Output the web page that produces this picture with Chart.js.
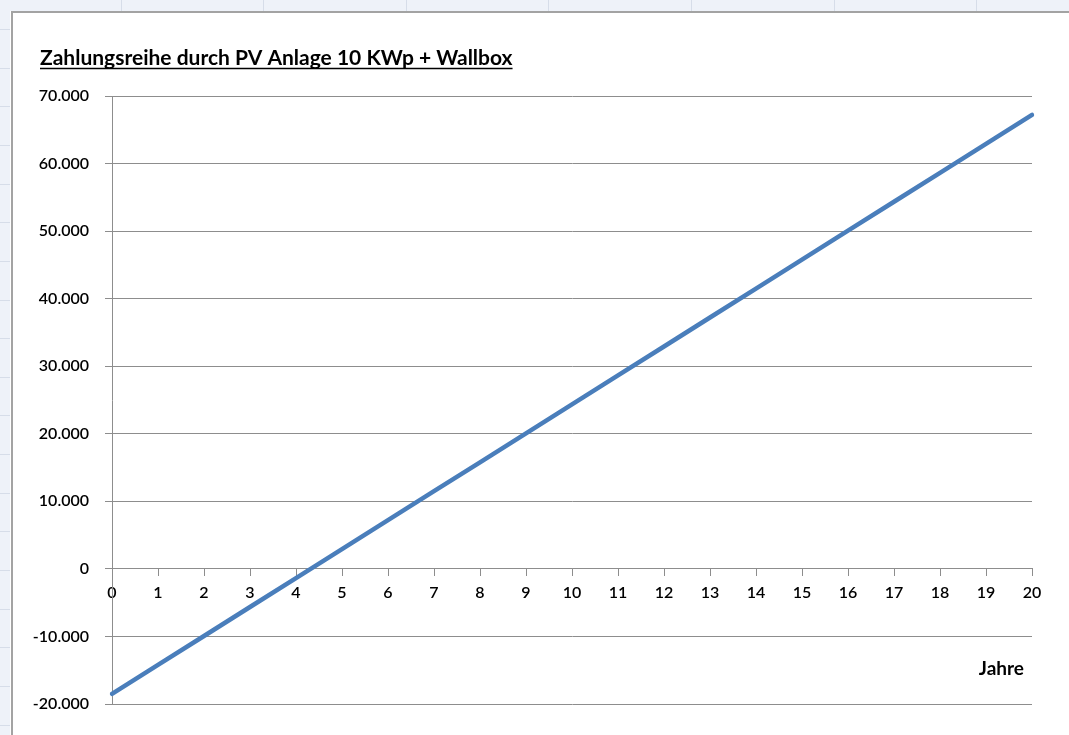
<!DOCTYPE html>
<html>
<head>
<meta charset="utf-8">
<script src="https://cdn.jsdelivr.net/npm/chart.js@4.4.1/dist/chart.umd.min.js"></script>
<style>
  html, body { margin: 0; padding: 0; background: #ffffff; }
  #wrap { position: relative; width: 1069px; height: 735px; }
</style>
</head>
<body>
<div id="wrap"><canvas id="chart" width="1069" height="735"></canvas></div>
<script>
// Years of operation (x categories)
const years = ['0','1','2','3','4','5','6','7','8','9','10','11','12','13','14','15','16','17','18','19','20'];
// Cumulative cash flow in EUR per year
const cashFlow = [-18500, -14200, -9930, -5640, -1360, 2930, 7210, 11500, 15780, 20070,
                  24350, 28640, 32920, 37210, 41490, 45780, 50060, 54350, 58630, 62920, 67200];
// Value axis range and spacing
const yMin = -20000;
const yMax = 70000;
const yStep = 10000;

const titleText = 'Zahlungsreihe durch PV Anlage 10 KWp + Wallbox';
const xAxisName = 'Jahre';

const FONT = 'Lato, "Open Sans", "Noto Sans", sans-serif';
const GRID = '#8d8d8d';

// German number format: 70.000, -10.000
function formatDE(v) {
  const s = Math.abs(v).toString().replace(/\B(?=(\d{3})+(?!\d))/g, '.');
  return (v < 0 ? '-' : '') + s;
}

// Spreadsheet backdrop (cell headers and frame) behind the chart object
const sheetBackdrop = {
  id: 'sheetBackdrop',
  beforeDraw(chart) {
    const ctx = chart.ctx;
    const W = chart.width, H = chart.height;
    ctx.save();
    ctx.fillStyle = '#ffffff';
    ctx.fillRect(0, 0, W, H);
    ctx.fillStyle = '#eef2f9';
    ctx.fillRect(0, 0, W, 11);
    ctx.fillRect(0, 0, 10, H);
    ctx.strokeStyle = '#d6dde9';
    ctx.lineWidth = 1;
    for (let x = 120.5; x < W; x += 142.6) {
      ctx.beginPath(); ctx.moveTo(Math.round(x) + 0.5, 0); ctx.lineTo(Math.round(x) + 0.5, 11); ctx.stroke();
    }
    for (let y = 29; y < H; y += 38.65) {
      ctx.beginPath(); ctx.moveTo(0, Math.round(y) + 0.5); ctx.lineTo(10, Math.round(y) + 0.5); ctx.stroke();
    }
    // chart frame
    ctx.strokeStyle = '#a3a3a3';
    ctx.lineWidth = 2;
    ctx.beginPath();
    ctx.moveTo(12, H);
    ctx.lineTo(12, 12);
    ctx.lineTo(W, 12);
    ctx.stroke();
    ctx.restore();
  }
};

// Underlined chart title and the axis name at the lower right
const chartTexts = {
  id: 'chartTexts',
  afterDraw(chart) {
    const ctx = chart.ctx;
    ctx.save();
    ctx.font = 'bold 21px ' + FONT;
    ctx.fillStyle = '#000000';
    ctx.textAlign = 'left';
    ctx.textBaseline = 'alphabetic';
    const tx = 40, ty = 65;
    ctx.fillText(titleText, tx, ty);
    const w = ctx.measureText(titleText).width;
    ctx.strokeStyle = '#000000';
    ctx.lineWidth = 1.5;
    ctx.beginPath();
    ctx.moveTo(tx, ty + 3.5);
    ctx.lineTo(tx + w, ty + 3.5);
    ctx.stroke();

    ctx.font = 'bold 19px ' + FONT;
    ctx.textAlign = 'right';
    ctx.textBaseline = 'middle';
    ctx.fillText(xAxisName, chart.chartArea.right - 8, chart.scales.y.getPixelForValue(-14800));
    ctx.restore();
  }
};

new Chart(document.getElementById('chart'), {
  type: 'line',
  data: {
    labels: years,
    datasets: [{
      label: 'Zahlungsreihe',
      data: cashFlow,
      borderColor: '#4a7ebb',
      borderWidth: 4.5,
      borderCapStyle: 'round',
      borderJoinStyle: 'round',
      pointRadius: 0,
      tension: 0,
      fill: false
    }]
  },
  options: {
    responsive: false,
    animation: false,
    layout: { padding: { left: 20, top: 96, right: 37, bottom: 31 } },
    plugins: {
      legend: { display: false },
      tooltip: { enabled: false },
      title: { display: false }
    },
    scales: {
      x: {
        type: 'category',
        position: { y: 0 },
        offset: false,
        grid: { drawOnChartArea: false, drawTicks: true, tickLength: 7, color: GRID, lineWidth: 1 },
        border: { display: true, color: GRID, width: 1 },
        ticks: {
          color: '#000000',
          font: { family: FONT, size: 16, weight: '600' },
          padding: 7,
          maxRotation: 0,
          autoSkip: false
        }
      },
      y: {
        min: yMin,
        max: yMax,
        afterFit(scale) { scale.width = 92; },
        grid: { color: GRID, lineWidth: 1, tickLength: 7, drawTicks: true },
        border: { display: true, color: GRID, width: 1 },
        ticks: {
          stepSize: yStep,
          color: '#000000',
          font: { family: FONT, size: 16, weight: '600' },
          padding: 16,
          callback: (v) => formatDE(v)
        }
      }
    }
  },
  plugins: [sheetBackdrop, chartTexts]
});
</script>
</body>
</html>
